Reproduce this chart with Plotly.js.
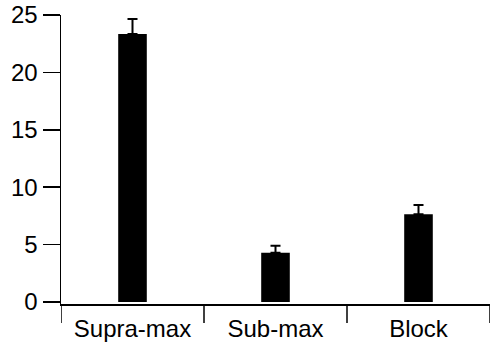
<!DOCTYPE html>
<html>
<head>
<meta charset="utf-8">
<script src="https://cdn.plot.ly/plotly-3.0.1.min.js"></script>
<style>html,body{margin:0;padding:0;background:#fff;}#chart{width:492px;height:344px;}</style>
</head>
<body>
<div id="chart"></div>
<script>
const categories = ["Supra-max", "Sub-max", "Block"];
const means = [23.35, 4.3, 7.65];
const errUp = [1.3, 0.6, 0.8];
const yTicks = [0, 5, 10, 15, 20, 25];
const boundaries = [-0.5, 0.5, 1.5, 2.5];

const trace = {
  type: "bar",
  x: [0, 1, 2],
  y: means,
  width: 0.2,
  marker: {color: "#000000", line: {width: 0}},
  error_y: {
    type: "data",
    symmetric: false,
    array: errUp,
    arrayminus: [0, 0, 0],
    color: "#000000",
    thickness: 2,
    width: 5
  },
  hoverinfo: "none"
};

const shapes = boundaries.map(b => ({
  type: "line", xref: "x", yref: "paper",
  x0: b, x1: b, y0: 0, y1: -0.066,
  line: {color: "#000000", width: 1.5}
}));

const layout = {
  width: 492,
  height: 344,
  margin: {l: 61, r: 2, t: 15, b: 40},
  paper_bgcolor: "#ffffff",
  plot_bgcolor: "#ffffff",
  showlegend: false,
  font: {family: "Liberation Sans, Arial, sans-serif", size: 24, color: "#000000"},
  xaxis: {
    range: [-0.5, 2.5],
    tickvals: [0, 1, 2],
    ticktext: categories,
    showline: true,
    linecolor: "#000000",
    linewidth: 1.5,
    ticks: "",
    ticklabelstandoff: 3,
    showgrid: false,
    zeroline: false,
    fixedrange: true
  },
  yaxis: {
    range: [-0.174, 25],
    tickvals: yTicks,
    ticktext: yTicks.map(String),
    showline: true,
    linecolor: "#000000",
    linewidth: 1.5,
    ticks: "outside",
    ticklen: 17,
    tickwidth: 1.5,
    tickcolor: "#000000",
    showgrid: false,
    zeroline: false,
    fixedrange: true
  },
  shapes: shapes
};

Plotly.newPlot("chart", [trace], layout, {staticPlot: true, displayModeBar: false});
</script>
</body>
</html>
